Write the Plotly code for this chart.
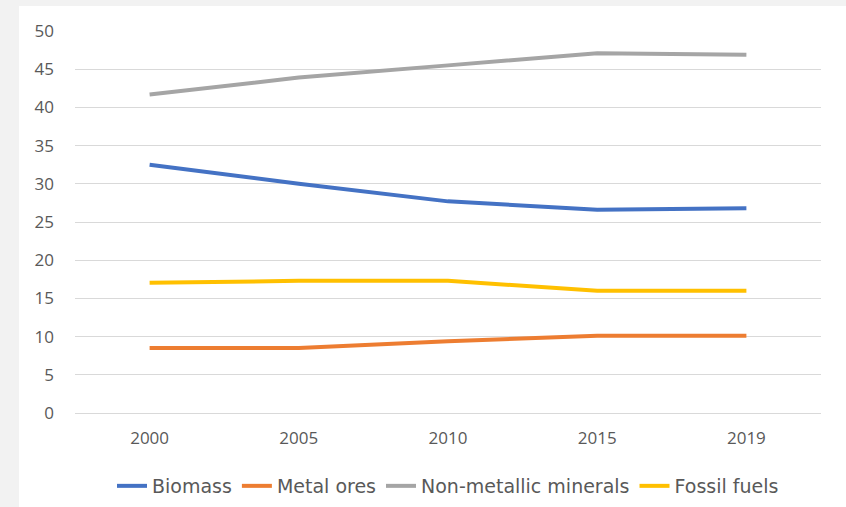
import plotly.graph_objects as go

years = ["2000", "2005", "2010", "2015", "2019"]
biomass = [32.5, 30.0, 27.7, 26.6, 26.8]
metal_ores = [8.5, 8.5, 9.4, 10.1, 10.1]
non_metallic = [41.7, 43.9, 45.5, 47.1, 46.9]
fossil_fuels = [17.05, 17.3, 17.3, 16.0, 16.0]

series = [
    ("Biomass", biomass, "#4472C4"),
    ("Metal ores", metal_ores, "#ED7D31"),
    ("Non-metallic minerals", non_metallic, "#A5A5A5"),
    ("Fossil fuels", fossil_fuels, "#FFC000"),
]

fig = go.Figure()
for name, vals, color in series:
    fig.add_trace(go.Scatter(x=years, y=vals, name=name, mode="lines",
                             line=dict(color=color, width=4)))

W, H = 846, 507
L, R, T, B = 75, 25, 31, 94
pw = W - L - R
ph = H - T - B

fig.add_shape(type="rect", xref="paper", yref="paper", layer="below",
              x0=(19 - L) / pw, x1=(W + 5 - L) / pw,
              y0=-(H + 5 - T - ph) / ph, y1=(H - B - 6) / ph,
              fillcolor="white", line=dict(width=0))

tickfont = dict(family="Open Sans, Liberation Sans, sans-serif", size=17, color="#595959")

fig.update_layout(
    width=W, height=H,
    margin=dict(l=L, r=R, t=T, b=B, autoexpand=False),
    paper_bgcolor="#F2F2F2",
    plot_bgcolor="white",
    font=tickfont,
    showlegend=True,
    legend=dict(orientation="h", x=0.5, xanchor="center",
                yref="container", y=1 - 486 / H, yanchor="middle",
                font=dict(family="DejaVu Sans, sans-serif", size=19, color="#595959"),
                bgcolor="rgba(0,0,0,0)", itemwidth=30, tracegroupgap=0),
    xaxis=dict(type="category", range=[-0.5, 4.5], showgrid=False, zeroline=False,
               showline=False, ticks="", tickfont=tickfont,
               ticklabelstandoff=13, automargin=False),
    yaxis=dict(range=[0, 50], dtick=5, tick0=0, showgrid=True, gridcolor="#D9D9D9",
               gridwidth=1, zeroline=True, zerolinecolor="#D9D9D9", zerolinewidth=1,
               showline=False, ticks="", tickfont=tickfont,
               ticklabelstandoff=20, automargin=False),
)

fig.write_html("out.html")
